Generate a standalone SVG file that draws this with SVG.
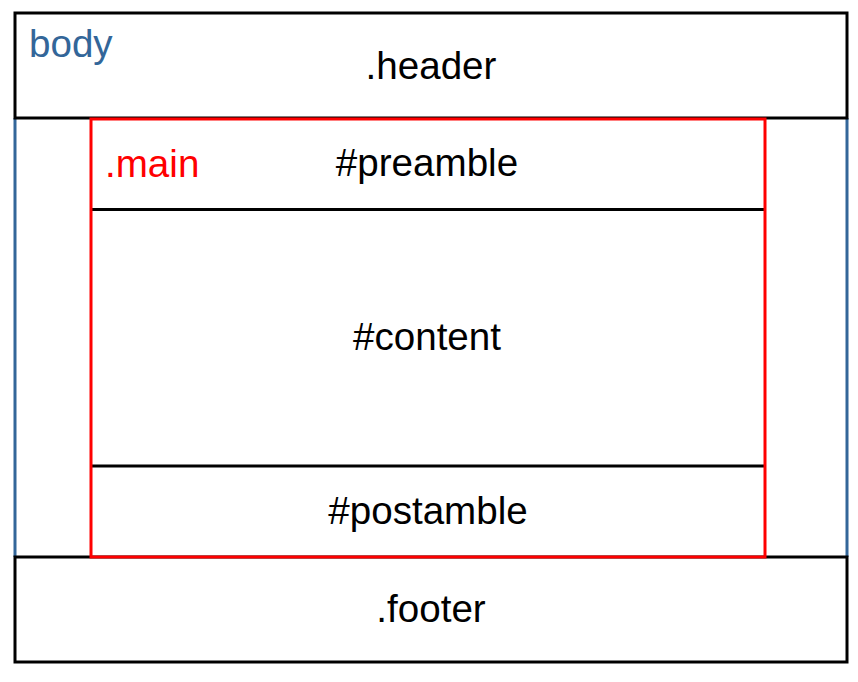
<svg xmlns="http://www.w3.org/2000/svg" width="858" height="682" viewBox="0 0 858 682">
<style>
  text { font-family: "Liberation Sans", Arial, sans-serif; font-size: 38.6px; fill: #000; }
  .mid { text-anchor: middle; }
  .box { fill: none; stroke: #000; stroke-width: 3; }
  .sep { stroke: #000; stroke-width: 3; }
  .body { stroke: #336699; stroke-width: 3; }
  .main { fill: none; stroke: #ff0000; stroke-width: 3; }
</style>
<rect width="858" height="682" fill="#fff"/>
<g id="body">
  <line class="body" x1="15" y1="118" x2="15" y2="557"/>
  <line class="body" x1="847" y1="118" x2="847" y2="557"/>
</g>
<g id="header">
  <rect class="box" x="15" y="13" width="832" height="105"/>
  <text class="mid" x="431" y="79">.header</text>
</g>
<g id="footer">
  <rect class="box" x="15" y="557" width="832" height="105"/>
  <text class="mid" x="431" y="622">.footer</text>
</g>
<g id="preamble">
  <line class="sep" x1="91" y1="209.5" x2="765" y2="209.5"/>
  <text class="mid" x="427" y="176">#preamble</text>
</g>
<g id="content">
  <text class="mid" x="427" y="350">#content</text>
</g>
<g id="postamble">
  <line class="sep" x1="91" y1="466" x2="765" y2="466"/>
  <text class="mid" x="428" y="524">#postamble</text>
</g>
<g id="main">
  <rect class="main" x="91" y="119" width="674" height="438"/>
  <text x="105" y="177" style="fill:#ff0000">.main</text>
</g>
<text id="body-label" x="29" y="57" style="fill:#336699">body</text>
<g id="connectors"/>
</svg>
